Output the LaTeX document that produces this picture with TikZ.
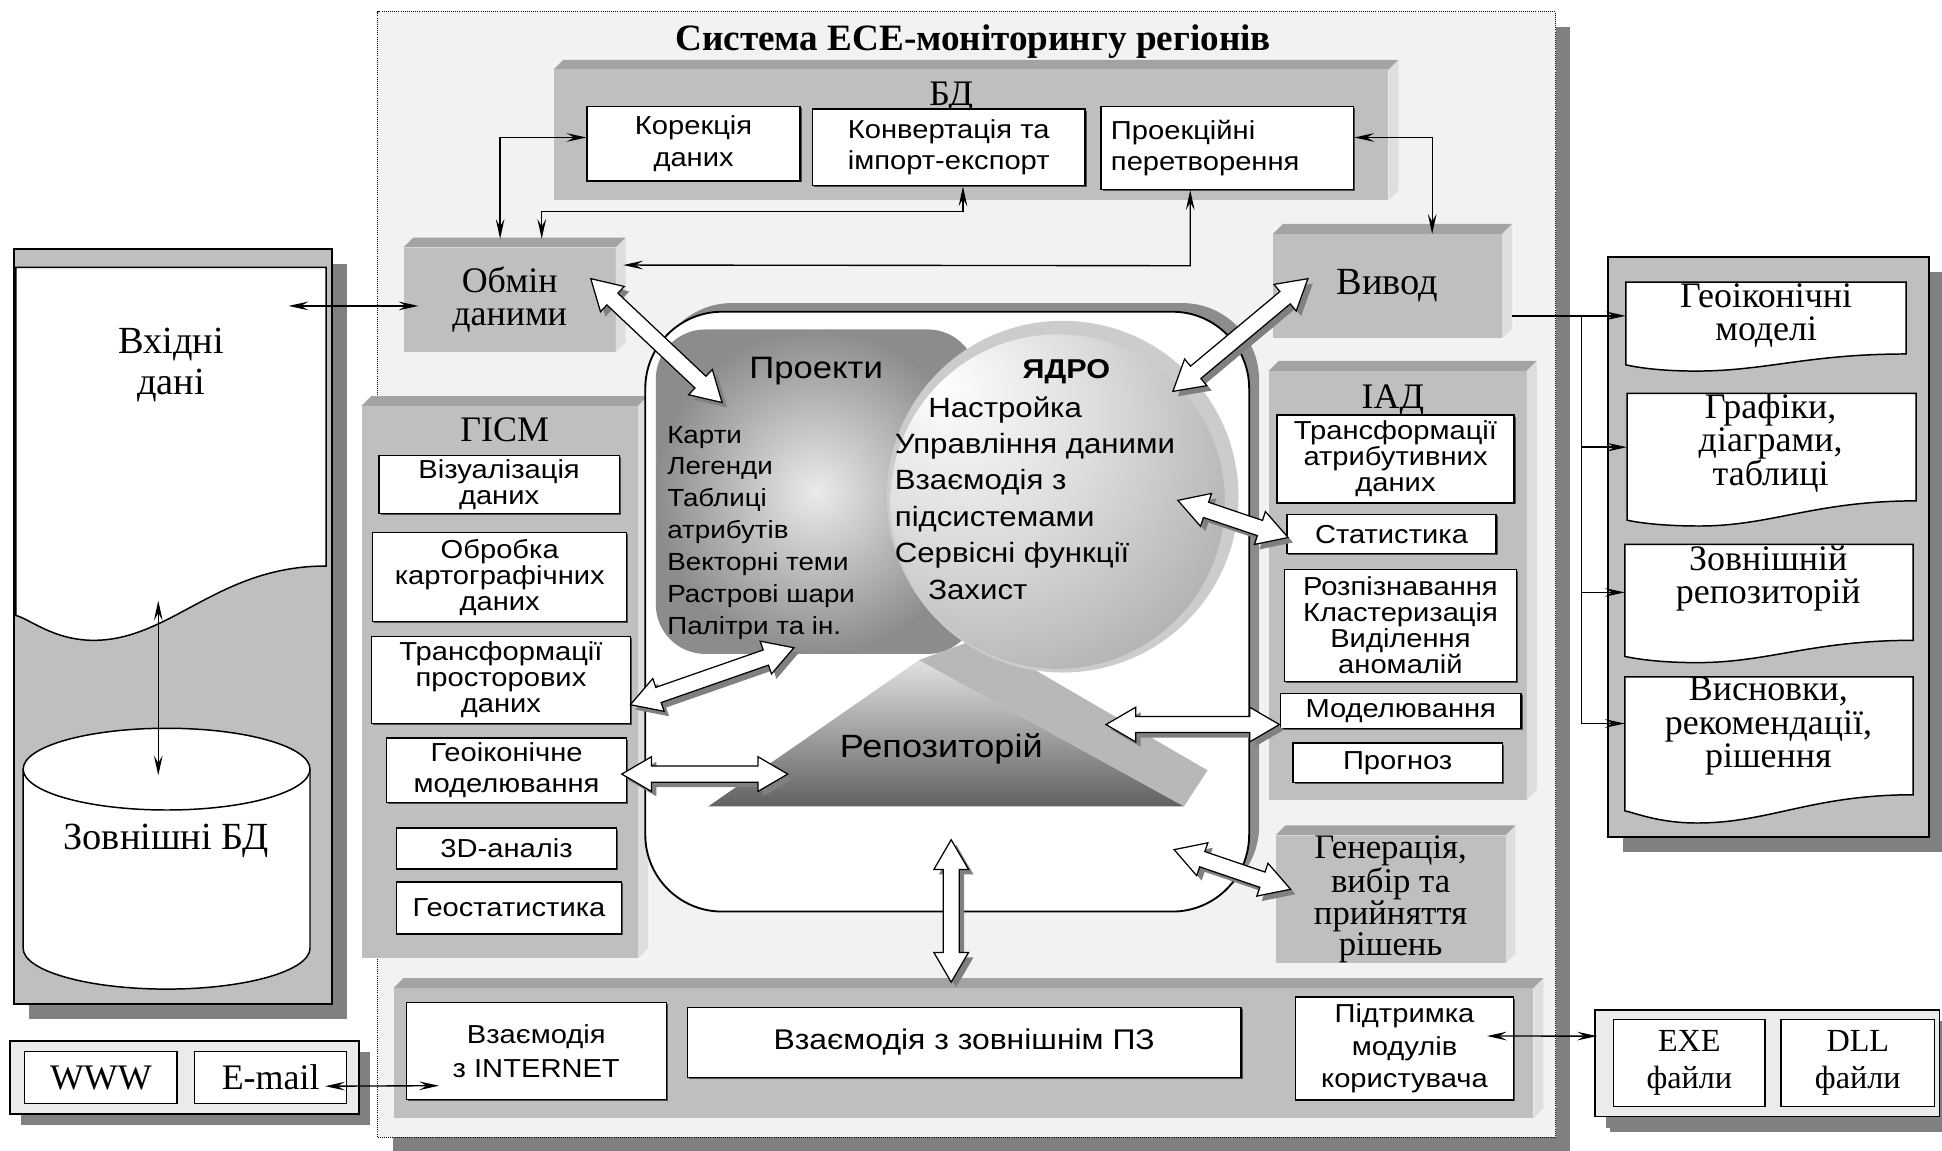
\documentclass[tikz,border=0pt]{standalone}
\usepackage{fontspec}
\setmainfont{Liberation Serif}
\setsansfont{Liberation Sans}[FakeStretch=1.12]
\usetikzlibrary{arrows.meta,positioning,fit,calc,shadows}

\pgfdeclareradialshading{kernelball}{\pgfpoint{-18bp}{18bp}}{%
  color(0bp)=(white); color(20bp)=(black!14); color(45bp)=(black!36); color(75bp)=(black!56)}

% raised panel: darker top face, lighter side face
\newcommand{\bevel}[1]{%
  \fill[bevtop] (#1.north west) -- ++(8,8) -- ([shift={(8,8)}]#1.north east) -- (#1.north east) -- cycle;
  \fill[bevside] (#1.north east) -- ++(8,8) -- ([shift={(8,8)}]#1.south east) -- (#1.south east) -- cycle;}

% document sheet with a wavy lower edge
\newcommand{\docshape}[7]{%
  \node[inner sep=0pt, boxspan={#2}{#3}{#4}{#5}] (#1) {};
  \draw[docline] (#2,-#3) -- (#4,-#3) -- (#4,-#5)
    .. controls ({#4-0.35*(#4-#2)},-#5) and ({#2+0.5*(#4-#2)},{-#5-#7}) .. ({#2+0.25*(#4-#2)},{-#5-#7})
    .. controls ({#2+0.12*(#4-#2)},{-#5-#7}) and ({#2+0.04*(#4-#2)},{-#5-#6-2}) .. (#2,{-#5-#6}) -- cycle;}

% hollow double block arrow with shadow
\newcommand{\arrowshape}[3]{%
  \path[#1] (#2) -- ($(#2)!24pt!(#3)!14pt!90:(#3)$) -- ($(#2)!24pt!(#3)!6.5pt!90:(#3)$)
    -- ($(#3)!24pt!(#2)!6.5pt!-90:(#2)$) -- ($(#3)!24pt!(#2)!14pt!-90:(#2)$) -- (#3)
    -- ($(#3)!24pt!(#2)!14pt!90:(#2)$) -- ($(#3)!24pt!(#2)!6.5pt!90:(#2)$)
    -- ($(#2)!24pt!(#3)!6.5pt!-90:(#3)$) -- ($(#2)!24pt!(#3)!14pt!-90:(#3)$) -- cycle;}
\newcommand{\bigarrow}[2]{%
  \arrowshape{fill=black!50, transform canvas={shift={(4pt,-4pt)}}}{#1}{#2}
  \arrowshape{draw, fill=white, line width=1pt}{#1}{#2}}

\begin{document}
\begin{tikzpicture}[x=1pt, y=1pt,
  boxspan/.style n args={4}{at={({(#1+#3)/2},{-(#2+#4)/2})}, minimum width={#3-#1}, minimum height={#4-#2}},
  panel/.style={fill=black!25, inner sep=0pt},
  bevtop/.style={fill=black!36},
  bevside/.style={fill=black!13},
  darkpanel/.style={draw, line width=1.5pt, fill=black!25, inner sep=0pt, drop shadow={shadow xshift=12pt, shadow yshift=-12pt, fill=black!50, opacity=1}},
  lightpanel/.style={draw, line width=1.2pt, fill=black!8, inner sep=0pt, drop shadow={shadow xshift=9pt, shadow yshift=-9pt, fill=black!50, opacity=1}},
  wbox/.style={draw, fill=white, line width=1.1pt, inner sep=0pt, align=center, font=\sffamily\fontsize{21}{21}\selectfont, drop shadow={shadow xshift=1.3pt, shadow yshift=-1.3pt, fill=black!70, opacity=1}},
  sbox/.style={draw, fill=white, line width=1.1pt, inner sep=0pt, align=center, font=\rmfamily\fontsize{26}{29.5}\selectfont},
  plabel/.style={inner sep=0pt, font=\rmfamily\fontsize{29}{29}\selectfont},
  ptext/.style={align=center, font=\rmfamily\fontsize{29}{27}\selectfont},
  doctext/.style={inner sep=0pt, align=center, font=\rmfamily\fontsize{29}{27}\selectfont},
  docline/.style={draw, fill=white, line width=1.2pt},
  dblarr/.style={{Stealth[length=16pt,width=7pt,inset=6pt]}-{Stealth[length=16pt,width=7pt,inset=6pt]}, line width=1.1pt},
  onearr/.style={-{Stealth[length=16pt,width=7pt,inset=6pt]}, line width=1.1pt},
]
\useasboundingbox (0,0) rectangle (1568,-929);
\fill[white] (0,0) rectangle (1568,-929);

% system frame
\node[boxspan={305}{9.5}{1256}{918}, inner sep=0pt, fill=black!5, draw, densely dotted, line width=0.7pt,
  drop shadow={shadow xshift=12pt, shadow yshift=-12pt, fill=black!50, opacity=1}] (sys) {};
\node[anchor=base, font=\rmfamily\bfseries\fontsize{30}{30}\selectfont] (title) at (785.7,-40.4) {Система ЕСЕ-моніторингу регіонів};

% input data
\node[darkpanel, boxspan={11.2}{201}{267.8}{810.7}] (inpanel) {};
\docshape{vkhidni}{12.9}{215.8}{263.3}{457}{40}{60}
\node[ptext, font=\rmfamily\fontsize{31}{33.6}\selectfont] (vkhtext) at (138,-294.6) {Вхідні\\дані};
\node[inner sep=0pt, boxspan={18.7}{588}{250.3}{798.6}] (zovbd) {};
\draw[docline] (18.7,-621) -- (18.7,-765.6) arc[start angle=180, end angle=360, x radius=115.8, y radius=33]
  -- (250.3,-621) arc[start angle=0, end angle=180, x radius=115.8, y radius=33] -- cycle;
\draw[line width=1.2pt] (18.7,-621) arc[start angle=180, end angle=360, x radius=115.8, y radius=33];
\node[anchor=base, font=\rmfamily\fontsize{31}{31}\selectfont] (zovbdtext) at (134,-686) {Зовнішні БД};

% output documents
\node[darkpanel, boxspan={1298.5}{207.3}{1557.7}{675.8}] (outpanel) {};
\docshape{geomod}{1312.8}{227.7}{1539}{285.8}{8.8}{13.8}
\docshape{grafiky}{1313.7}{317.7}{1547}{404.4}{15.6}{20.3}
\docshape{zovrep}{1312}{439.6}{1544.6}{517}{13}{18}
\docshape{vysn}{1312}{546.6}{1544.6}{641.7}{13}{22.8}
\node[doctext] (geomodtext) at (1426,-255) {Геоіконічні\\моделі};
\node[doctext] (grafikytext) at (1429.6,-357.5) {Графіки,\\діаграми,\\таблиці};
\node[doctext] (zovreptext) at (1427.7,-467) {Зовнішній\\репозиторій};
\node[doctext] (vysntext) at (1427.8,-586.5) {Висновки,\\рекомендації,\\рішення};

% www and exe groups
\node[lightpanel, boxspan={8}{840.5}{290}{899.5}] (wwwpanel) {};
\node[sbox, boxspan={20}{849}{143}{891}, font=\rmfamily\fontsize{29}{29}\selectfont] (www) {WWW};
\node[sbox, boxspan={157}{849}{280}{891}, font=\rmfamily\fontsize{29}{29}\selectfont] (email) {E-mail};
\node[lightpanel, drop shadow={shadow xshift=12pt, shadow yshift=-12pt, fill=black!50, opacity=1}, boxspan={1288}{815.5}{1566}{901.6}] (exepanel) {};
\node[sbox, boxspan={1303}{823}{1425}{893.6}] (exe) {EXE\\файли};
\node[sbox, boxspan={1438}{823}{1562}{893.6}] (dll) {DLL\\файли};

% raised panels
\node[panel, boxspan={447}{56.5}{1121}{161.5}] (bd) {};
\bevel{bd}
\node[plabel, below=9.5pt of bd.north, xshift=-16pt] (bdlabel) {БД};
\node[panel, ptext, boxspan={326}{200}{497}{284}] (obmin) {Обмін\\даними};
\bevel{obmin}
\node[panel, ptext, font=\rmfamily\fontsize{31}{31}\selectfont, boxspan={1028}{189}{1212.7}{273}] (vyvod) {Вивод};
\bevel{vyvod}
\node[panel, boxspan={292}{328}{515}{773.6}] (gism) {};
\bevel{gism}
\node[plabel, below=9pt of gism.north, xshift=4pt] (gismlabel) {ГІСМ};
\node[panel, boxspan={1024.7}{299.6}{1232.6}{645.6}] (iad) {};
\bevel{iad}
\node[plabel, below=11pt of iad.north, xshift=-4pt] (iadlabel) {ІАД};
\node[panel, ptext, font=\rmfamily\fontsize{28}{25}\selectfont, boxspan={1030}{677}{1215.6}{775}] (gener) {Генерація,\\вибір та\\прийняття\\рішень};
\bevel{gener}
\node[panel, boxspan={318}{798}{1238}{902.7}] (bottom) {};
\bevel{bottom}

% kernel block
\node[boxspan={529}{244.7}{1016.6}{729}, inner sep=0pt, fill=black!45, rounded corners=62pt] (kernelshadow) {};
\node[boxspan={521}{251.7}{1008.6}{736}, inner sep=0pt, fill=white, draw, line width=1.5pt, rounded corners=62pt] (kernelbox) {};
\node[boxspan={529.5}{266}{789}{528}, inner sep=0pt, rounded corners=40pt, inner color=black!8, outer color=black!45] (proekty) {};
\shade[top color=black!12, bottom color=black!62] (572,-651) -- (742,-533) -- (956,-651) -- cycle;
\fill[black!28] (742,-533) -- (791,-515) -- (975,-622) -- (956,-651) -- cycle;
\node[circle, fill=black!20, minimum size=284pt, inner sep=0pt] (kernelhalo) at (858,-401) {};
\node[circle, shade, shading=kernelball, minimum size=270pt, inner sep=0pt] (kernel) at (854,-405) {};

\node[anchor=base, font=\sffamily\fontsize{25}{25}\selectfont] (proektytext) at (659,-306) {Проекти};
\node[anchor=west, inner sep=0pt, align=left, font=\sffamily\fontsize{20}{25.7}\selectfont] (proektylist) at (538.6,-430)
  {Карти\\Легенди\\Таблиці\\атрибутів\\Векторні теми\\Растрові шари\\Палітри та ін.};
\node[anchor=base, font=\sffamily\bfseries\fontsize{22}{22}\selectfont] (kerneltitle) at (861,-306) {ЯДРО};
\node[anchor=west, inner sep=0pt, align=left, font=\sffamily\fontsize{22.5}{29.4}\selectfont] (kernellist) at (722.3,-402)
  {\hspace*{27pt}Настройка\\Управління даними\\Взаємодія з\\підсистемами\\Сервісні функції\\\hspace*{27pt}Захист};
\node[anchor=base, font=\sffamily\fontsize{26}{26}\selectfont] (repotext) at (760,-612) {Репозиторій};

% boxes of the database panel
\node[wbox, boxspan={474}{86}{646}{146}, font=\sffamily\fontsize{21}{25.5}\selectfont] (korr) {Корекція\\даних};
\node[wbox, boxspan={656}{88}{876}{150}, font=\sffamily\fontsize{21}{25.5}\selectfont] (konv) {Конвертація та\\імпорт-експорт};
\node[wbox, boxspan={889}{86}{1093}{153}, font=\sffamily\fontsize{21}{25.5}\selectfont, align=left, text width=188pt] (proek) {Проекційні\\перетворення};

% boxes of GISM
\node[wbox, boxspan={306}{368}{500}{414.5}] (vizual) {Візуалізація\\даних};
\node[wbox, boxspan={301}{430}{506}{502}] (obrob) {Обробка\\картографічних\\даних};
\node[wbox, boxspan={300}{514}{509}{584}] (transpr) {Трансформації\\просторових\\даних};
\node[wbox, boxspan={312}{596}{506}{648}, font=\sffamily\fontsize{21}{25.5}\selectfont] (geoikmod) {Геоіконічне\\моделювання};
\node[wbox, boxspan={320}{668.5}{498}{701.5}] (analiz) {3D-аналіз};
\node[wbox, boxspan={320}{712}{502}{754}] (geostat) {Геостатистика};

% boxes of IAD
\node[wbox, boxspan={1031}{335}{1222.5}{406}] (transatr) {Трансформації\\атрибутивних\\даних};
\node[wbox, boxspan={1039}{415.6}{1208}{447}] (stat) {Статистика};
\node[wbox, boxspan={1037}{460}{1224.5}{550}] (rozpiz) {Розпізнавання\\Кластеризація\\Виділення\\аномалій};
\node[wbox, boxspan={1034}{560}{1228}{588}] (model) {Моделювання};
\node[wbox, boxspan={1044}{600}{1213}{632}] (prognoz) {Прогноз};

% boxes of the lower panel
\node[wbox, boxspan={328}{809.6}{538}{887.6}, font=\sffamily\fontsize{21}{27}\selectfont] (inet) {Взаємодія\\з INTERNET};
\node[wbox, boxspan={555}{813.6}{1002}{869.8}, font=\sffamily\fontsize{23}{23}\selectfont] (zovpz) {Взаємодія з зовнішнім ПЗ};
\node[wbox, boxspan={1046}{805}{1222}{888}, font=\sffamily\fontsize{21}{26}\selectfont] (pidtr) {Підтримка\\модулів\\користувача};

% thin connectors
\coordinate (vkin) at (233,-247);
\coordinate (wavept) at (127.8,-485);
\coordinate (cyltop) at (127.8,-626);
\draw[dblarr] (vkin) -- ([xshift=12pt,yshift=-5pt]obmin.west);
\draw[dblarr] (wavept) -- (cyltop);
\draw[dblarr] ([yshift=5pt]korr.west) -| ([xshift=78pt,yshift=7pt]obmin.north west);
\draw[dblarr] ([xshift=11.5pt]konv.south) -- ++(0,-20) -| ([xshift=111.6pt,yshift=7pt]obmin.north west);
\draw[dblarr] ([xshift=-30pt]proek.south) -- ++(0,-61) -- ([xshift=6pt,yshift=28pt]obmin.east);
\draw[dblarr] ([yshift=8.5pt]proek.east) -| ([xshift=36pt]vyvod.north);
\coordinate (vout) at ([xshift=8pt,yshift=-24pt]vyvod.east);
\coordinate (trunk) at ([xshift=56pt]vout);
\draw[onearr] (vout) -- (vout -| geomod.west);
\draw[onearr] (trunk) |- (grafiky.west);
\draw[onearr] (trunk) |- (zovrep.west);
\draw[onearr] (trunk) |- ([yshift=10pt]vysn.west);
\draw[dblarr] ([xshift=-18pt,yshift=-7pt]email.east) -- ([xshift=27pt,yshift=-28pt]inet.west);
\draw[dblarr] ([xshift=-22pt,yshift=10pt]pidtr.east) -- ([xshift=2pt,yshift=22pt]exepanel.west);

% block arrows
\coordinate (a1s) at (477,-225);  \coordinate (a1e) at (583,-325);
\coordinate (a2s) at (1056,-225); \coordinate (a2e) at (947,-316);
\coordinate (a3s) at (951,-404);  \coordinate (a3e) at (1040,-434);
\coordinate (a4s) at (509,-569);  \coordinate (a4e) at (641,-523);
\coordinate (a5s) at (502,-625);  \coordinate (a5e) at (636,-625);
\coordinate (a6s) at (893,-585);  \coordinate (a6e) at (1033,-585);
\coordinate (a7s) at (768,-678);  \coordinate (a7e) at (768,-793);
\coordinate (a8s) at (948,-686);  \coordinate (a8e) at (1042,-718);
\bigarrow{a1s}{a1e}
\bigarrow{a2s}{a2e}
\bigarrow{a3s}{a3e}
\bigarrow{a4s}{a4e}
\bigarrow{a5s}{a5e}
\bigarrow{a6s}{a6e}
\bigarrow{a7s}{a7e}
\bigarrow{a8s}{a8e}
\end{tikzpicture}
\end{document}
